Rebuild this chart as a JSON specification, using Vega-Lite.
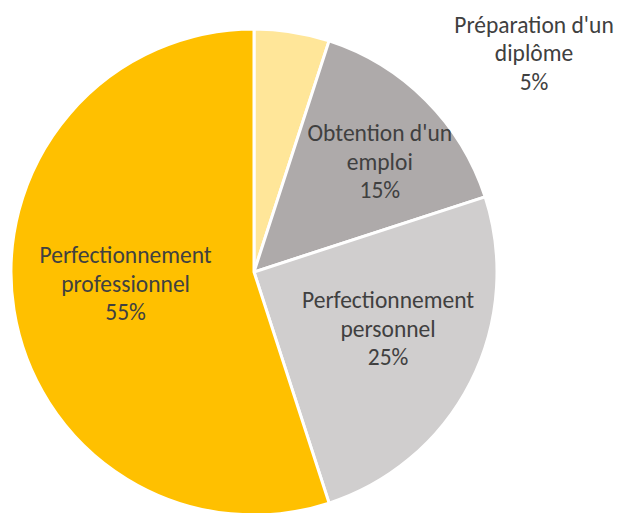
{
  "$schema": "https://vega.github.io/schema/vega-lite/v6.json",
  "width": 486,
  "height": 486,
  "padding": {"left": 11, "top": 29, "right": 122, "bottom": 0},
  "autosize": {"type": "none"},
  "background": "white",
  "config": {"view": {"stroke": null}},
  "data": {
    "values": [
      {"category": "Préparation d'un diplôme", "pct": 5, "label": "Préparation d'un\ndiplôme\n5%"},
      {"category": "Obtention d'un emploi", "pct": 15, "label": "Obtention d'un\nemploi\n15%"},
      {"category": "Perfectionnement personnel", "pct": 25, "label": "Perfectionnement\npersonnel\n25%"},
      {"category": "Perfectionnement professionnel", "pct": 55, "label": "Perfectionnement\nprofessionnel\n55%"}
    ]
  },
  "encoding": {
    "theta": {"field": "pct", "type": "quantitative", "stack": true},
    "order": {"field": "pct", "type": "quantitative", "sort": "ascending"}
  },
  "layer": [
    {
      "mark": {"type": "arc", "stroke": "white", "strokeWidth": 3},
      "encoding": {
        "color": {
          "field": "category",
          "type": "nominal",
          "scale": {
            "domain": ["Préparation d'un diplôme", "Obtention d'un emploi", "Perfectionnement personnel", "Perfectionnement professionnel"],
            "range": ["#FFE699", "#AEAAAA", "#D0CECE", "#FFC000"]
          },
          "legend": null
        }
      }
    },
    {
      "mark": {"type": "text", "radius": 130, "dy": -36, "font": "Carlito, Lato, sans-serif", "fontSize": 23.5, "lineHeight": 28.5, "lineBreak": "\n", "color": "#404040", "align": "center", "baseline": "middle"},
      "encoding": {"text": {"condition": {"test": "datum.pct == 55", "field": "label"}, "value": ""}}
    },
    {
      "mark": {"type": "text", "radius": 146, "dx": 4, "dy": -37, "font": "Carlito, Lato, sans-serif", "fontSize": 23.5, "lineHeight": 28.5, "lineBreak": "\n", "color": "#404040", "align": "center", "baseline": "middle"},
      "encoding": {"text": {"condition": {"test": "datum.pct == 25", "field": "label"}, "value": ""}}
    },
    {
      "mark": {"type": "text", "radius": 168, "dx": 7, "dy": -19, "font": "Carlito, Lato, sans-serif", "fontSize": 23.5, "lineHeight": 28.5, "lineBreak": "\n", "color": "#404040", "align": "center", "baseline": "middle"},
      "encoding": {"text": {"condition": {"test": "datum.pct == 15", "field": "label"}, "value": ""}}
    },
    {
      "mark": {"type": "text", "radius": 243, "dx": 242, "dy": -6, "font": "Carlito, Lato, sans-serif", "fontSize": 23.5, "lineHeight": 28.5, "lineBreak": "\n", "color": "#404040", "align": "center", "baseline": "middle"},
      "encoding": {"text": {"condition": {"test": "datum.pct == 5", "field": "label"}, "value": ""}}
    }
  ]
}
